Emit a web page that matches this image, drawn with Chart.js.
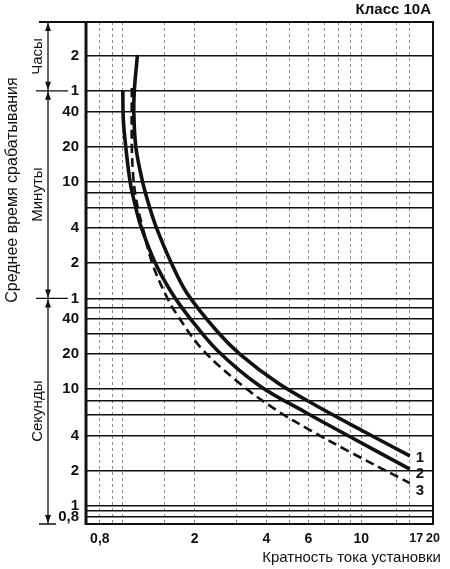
<!DOCTYPE html>
<html lang="ru">
<head>
<meta charset="utf-8">
<script src="https://cdn.jsdelivr.net/npm/chart.js"></script>
<title>Класс 10А</title>
<style>
  html, body { margin: 0; padding: 0; background: #fff; }
  canvas { display: block; }
</style>
</head>
<body>
<canvas id="chart" width="450" height="569"></canvas>
<script>
// current multiple (x) and mean trip time in seconds (y)
const curve1Current = [1.151, 1.117, 1.111, 1.133, 1.212, 1.297, 1.374, 1.589, 1.854, 2.478, 3.094, 4.468, 6.511, 10.35, 15.99];
const curve1Time    = [7307, 3663, 2373, 1189, 585, 357, 250, 123, 66.7, 31.5, 20.0, 11.3, 7.18, 4.30, 2.68];
const curve2Current = [0.999, 1.004, 1.028, 1.074, 1.133, 1.189, 1.361, 1.604, 1.909, 2.478, 3.754, 5.799, 8.70, 15.99];
const curve2Time    = [3663, 2027, 1189, 585, 357, 250, 123, 66.7, 40.7, 21.7, 10.65, 6.38, 4.05, 2.07];
const curve3Current = [1.090, 1.090, 1.111, 1.155, 1.206, 1.322, 1.499, 1.700, 2.164, 3.186, 4.468, 6.086, 8.96, 15.99];
const curve3Time    = [3811, 1189, 585, 357, 250, 123, 66.7, 42.4, 21.7, 10.65, 6.50, 4.47, 2.90, 1.57];
const curveNames = ['1', '2', '3'];

const xGridValues = [0.8, 0.9, 1, 1.5, 2, 3, 4, 5, 6, 7, 8, 9, 10, 14, 16, 17, 20];
const xTickLabels = {0.8: '0,8', 2: '2', 4: '4', 6: '6', 10: '10', 17: '17', 20: '20'};
const yGridValues = [0.8, 0.9, 1, 2, 4, 6, 8, 10, 20, 30, 40, 50, 60, 120, 240, 360, 480, 600, 1200, 2400, 3600, 7200];
const yTickLabels = {0.8: '0,8', 1: '1', 2: '2', 4: '4', 10: '10', 20: '20', 40: '40',
                     60: '1', 120: '2', 240: '4', 600: '10', 1200: '20', 2400: '40', 3600: '1', 7200: '2'};

const FONT = '"Liberation Sans", Arial, sans-serif';
const INK = '#111';

function points(xs, ys) {
  return xs.map((x, i) => ({x: x, y: ys[i]}));
}

const decorations = {
  id: 'decorations',
  afterDatasetsDraw(chart) {
    const ctx = chart.ctx;
    ctx.save();
    ctx.fillStyle = INK;
    ctx.font = 'bold 15px ' + FONT;
    ctx.textAlign = 'left';
    ctx.textBaseline = 'middle';
    const offsets = [2, 5, 8];
    chart.data.datasets.forEach((ds, i) => {
      const pts = chart.getDatasetMeta(i).data;
      const last = pts[pts.length - 1];
      ctx.fillText(curveNames[i], last.x + 6, last.y + offsets[i]);
    });
    ctx.restore();
  },
  afterDraw(chart) {
    const ctx = chart.ctx;
    const a = chart.chartArea;
    const y = chart.scales.y;
    ctx.save();
    ctx.strokeStyle = INK;
    ctx.fillStyle = INK;

    // frame
    ctx.lineWidth = 2;
    ctx.beginPath();
    ctx.moveTo(39, a.top);
    ctx.lineTo(a.right, a.top);
    ctx.lineTo(a.right, a.bottom);
    ctx.lineTo(a.left, a.bottom);
    ctx.stroke();
    ctx.lineWidth = 3;
    ctx.beginPath();
    ctx.moveTo(a.left, a.top - 1);
    ctx.lineTo(a.left, a.bottom + 1);
    ctx.stroke();

    // dimension line for hours / minutes / seconds
    const dx = 48;
    const marks = [a.top, y.getPixelForValue(3600), y.getPixelForValue(60), a.bottom];
    ctx.lineWidth = 1.3;
    ctx.beginPath();
    ctx.moveTo(dx, a.top);
    ctx.lineTo(dx, a.bottom);
    ctx.moveTo(36, marks[1]); ctx.lineTo(68, marks[1]);
    ctx.moveTo(36, marks[2]); ctx.lineTo(68, marks[2]);
    ctx.moveTo(39, a.bottom); ctx.lineTo(56, a.bottom);
    ctx.stroke();
    function arrow(tip, dir) {
      ctx.beginPath();
      ctx.moveTo(dx, tip);
      ctx.lineTo(dx - 3, tip - dir * 8);
      ctx.lineTo(dx + 3, tip - dir * 8);
      ctx.closePath();
      ctx.fill();
    }
    for (let i = 0; i < 3; i++) {
      arrow(marks[i] + 1, -1);
      arrow(marks[i + 1] - 1, 1);
    }

    function vtext(str, x, yc, font) {
      ctx.save();
      ctx.translate(x, yc);
      ctx.rotate(-Math.PI / 2);
      ctx.font = font;
      ctx.textAlign = 'center';
      ctx.textBaseline = 'middle';
      ctx.fillText(str, 0, 0);
      ctx.restore();
    }
    vtext('Часы', 38, (marks[0] + marks[1]) / 2, '15px ' + FONT);
    vtext('Минуты', 38, (marks[1] + marks[2]) / 2, '15px ' + FONT);
    vtext('Секунды', 38, (marks[2] + marks[3]) / 2, '15px ' + FONT);
    vtext('Среднее время срабатывания', 13, 190, '16px ' + FONT);

    ctx.textBaseline = 'middle';
    ctx.textAlign = 'right';
    ctx.font = 'bold 15px ' + FONT;
    ctx.fillText('Класс 10А', 431, 10);
    ctx.font = '15px ' + FONT;
    ctx.fillText('Кратность тока установки', 441, 558);
    ctx.restore();
  }
};

const curveStyle = {
  showLine: true,
  pointRadius: 0,
  borderColor: INK,
  borderWidth: 3.6,
  tension: 0.35,
  fill: false
};

new Chart(document.getElementById('chart'), {
  type: 'scatter',
  data: {
    datasets: [
      Object.assign({label: '1', data: points(curve1Current, curve1Time)}, curveStyle),
      Object.assign({label: '2', data: points(curve2Current, curve2Time)}, curveStyle),
      Object.assign({label: '3', data: points(curve3Current, curve3Time)}, curveStyle,
                    {borderWidth: 2.6, borderDash: [9, 5]})
    ]
  },
  options: {
    responsive: false,
    animation: false,
    layout: {padding: {left: 0, top: 22, right: 17, bottom: 0}},
    plugins: {legend: {display: false}, tooltip: {enabled: false}},
    scales: {
      x: {
        type: 'logarithmic',
        min: 0.7,
        max: 20,
        afterBuildTicks: s => { s.ticks = xGridValues.map(v => ({value: v})); },
        afterFit: s => { s.height = 45; },
        border: {display: false, dash: [3, 3]},
        grid: {
          color: c => (c.tick && (c.tick.value === 17 || c.tick.value === 20)) ? 'rgba(0,0,0,0)' : '#8c8c8c',
          lineWidth: 1,
          drawTicks: false
        },
        ticks: {
          autoSkip: false,
          maxRotation: 0,
          padding: 7,
          color: INK,
          font: c => ({family: FONT, size: (c.tick && c.tick.value >= 17) ? 12.5 : 14, weight: 'bold'}),
          callback: v => xTickLabels[v] || ''
        }
      },
      y: {
        type: 'logarithmic',
        min: 0.7,
        max: 14000,
        afterBuildTicks: s => { s.ticks = yGridValues.map(v => ({value: v})); },
        afterFit: s => { s.width = 86; },
        border: {display: false},
        grid: {color: INK, lineWidth: 1.6, drawTicks: false},
        ticks: {
          autoSkip: false,
          padding: 7,
          color: INK,
          font: {family: FONT, size: 15, weight: 'bold'},
          callback: v => yTickLabels[v] || ''
        }
      }
    }
  },
  plugins: [decorations]
});
</script>
</body>
</html>
